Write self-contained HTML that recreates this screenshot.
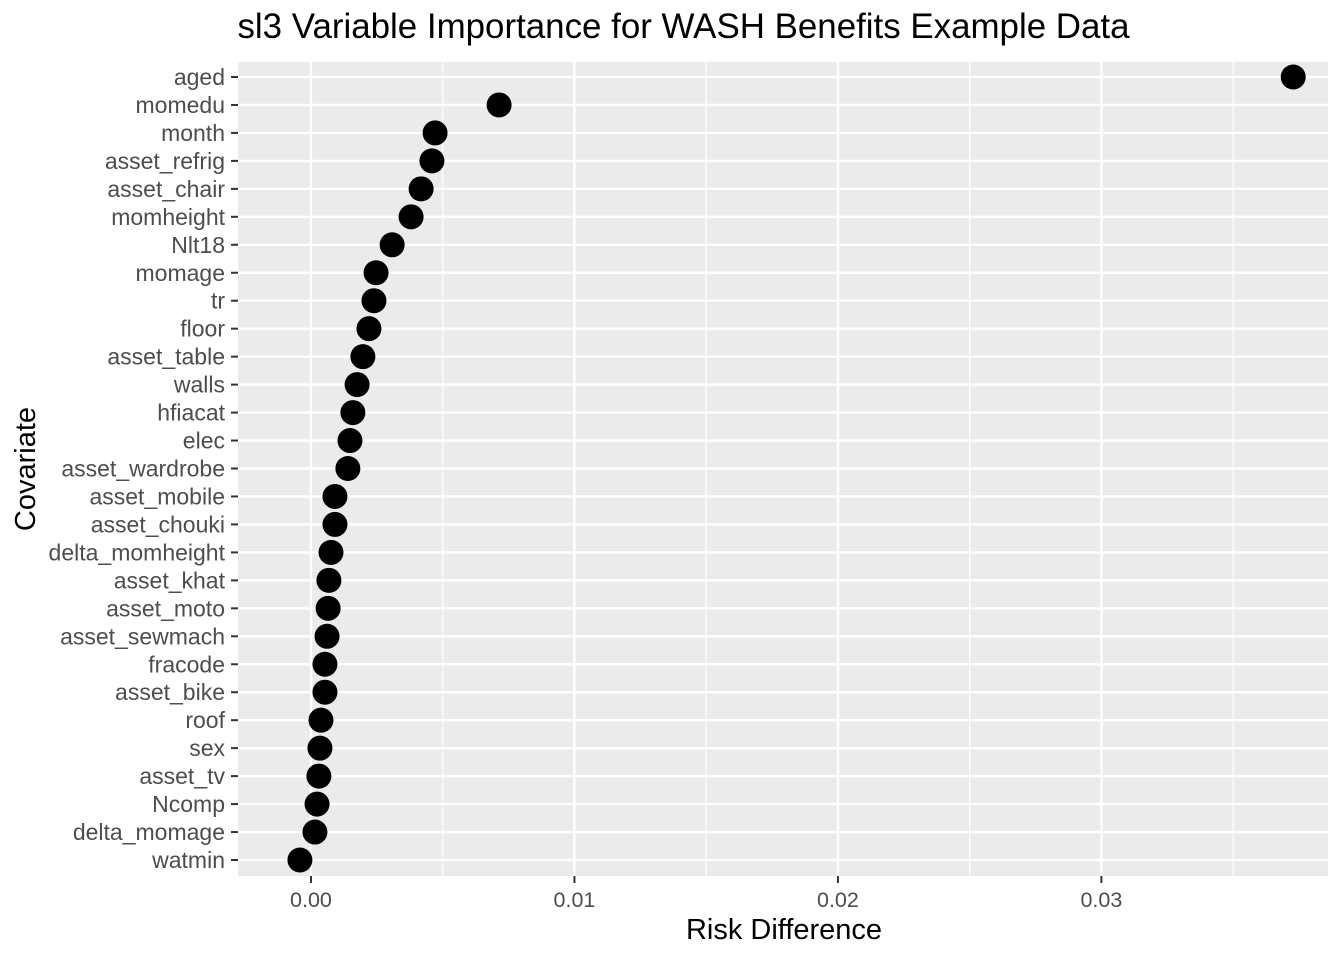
<!DOCTYPE html>
<html><head><meta charset="utf-8"><style>
html,body{margin:0;padding:0;background:#fff;}
svg{display:block;font-family:"Liberation Sans",sans-serif;}
</style></head><body>
<svg id="chart" width="1344" height="960">
<rect x="0" y="0" width="1344" height="960" fill="#fff"/>
<text x="683.5" y="38" font-size="34.9" text-anchor="middle" fill="#000">sl3 Variable Importance for WASH Benefits Example Data</text>
<rect id="panel" x="238" y="62" width="1090" height="814" fill="#ebebeb"/>
<g id="grid"></g>
<g id="ylab"></g>
<g id="xlab"></g>
<g id="points"></g>
<text x="784" y="939" font-size="29" text-anchor="middle" fill="#000">Risk Difference</text>
<text transform="translate(35,469) rotate(-90)" font-size="29" text-anchor="middle" fill="#000">Covariate</text>
</svg>
<script>
const categories=["aged","momedu","month","asset_refrig","asset_chair","momheight","Nlt18","momage","tr","floor","asset_table","walls","hfiacat","elec","asset_wardrobe","asset_mobile","asset_chouki","delta_momheight","asset_khat","asset_moto","asset_sewmach","fracode","asset_bike","roof","sex","asset_tv","Ncomp","delta_momage","watmin"];
const values=[0.03728,0.00714,0.00471,0.00459,0.00418,0.00380,0.00308,0.00247,0.00239,0.00220,0.00197,0.00175,0.00159,0.00148,0.00140,0.00091,0.00091,0.00076,0.00068,0.00065,0.00061,0.00053,0.00053,0.00038,0.00034,0.00030,0.00023,0.00015,-0.00042];
const xTicks=[0,0.01,0.02,0.03];
const xTickLabels=["0.00","0.01","0.02","0.03"];
const NS="http://www.w3.org/2000/svg";
const xMin=-0.00277,xMax=0.0386,pL=238,pR=1328;
function xs(v){return pL+(v-xMin)/(xMax-xMin)*(pR-pL);}
function ys(i){return 77+i*(860-77)/(categories.length-1);}
function mk(tag,attrs,parent){const e=document.createElementNS(NS,tag);for(const k in attrs)e.setAttribute(k,attrs[k]);parent.appendChild(e);return e;}
const grid=document.getElementById('grid'),yl=document.getElementById('ylab'),xl=document.getElementById('xlab'),pts=document.getElementById('points');
for(let i=0;i<xTicks.length;i++){
  const m=xTicks[i]+0.005; if(xs(m)<pR){const l=mk('line',{x1:xs(m),x2:xs(m),y1:62,y2:876,stroke:'#fff','stroke-width':1.2},grid);
  
  }
}
xTicks.forEach((t,i)=>{
  const x=xs(t);
  const l=mk('line',{x1:x,x2:x,y1:62,y2:876,stroke:'#fff','stroke-width':2.4},grid);
  
  
  mk('line',{x1:x,x2:x,y1:876,y2:883,stroke:'#333','stroke-width':2},xl);
  const tx=mk('text',{x:x,y:907,'font-size':21.5,'text-anchor':'middle',fill:'#4d4d4d'},xl);
  tx.textContent=xTickLabels[i];
  
  
});
categories.forEach((c,i)=>{
  const y=ys(i);
  const l=mk('line',{x1:pL,x2:pR,y1:y,y2:y,stroke:'#fff','stroke-width':2.4},grid);
  
  
  mk('line',{x1:231,x2:238,y1:y,y2:y,stroke:'#333','stroke-width':2},yl);
  const t=mk('text',{x:225,y:y+8,'font-size':23,'text-anchor':'end',fill:'#4d4d4d'},yl);
  t.textContent=c;
  
  
  const p=mk('circle',{cx:xs(values[i]),cy:y,r:12.5,fill:'#000'},pts);
  
  
});
</script>
</body></html>
